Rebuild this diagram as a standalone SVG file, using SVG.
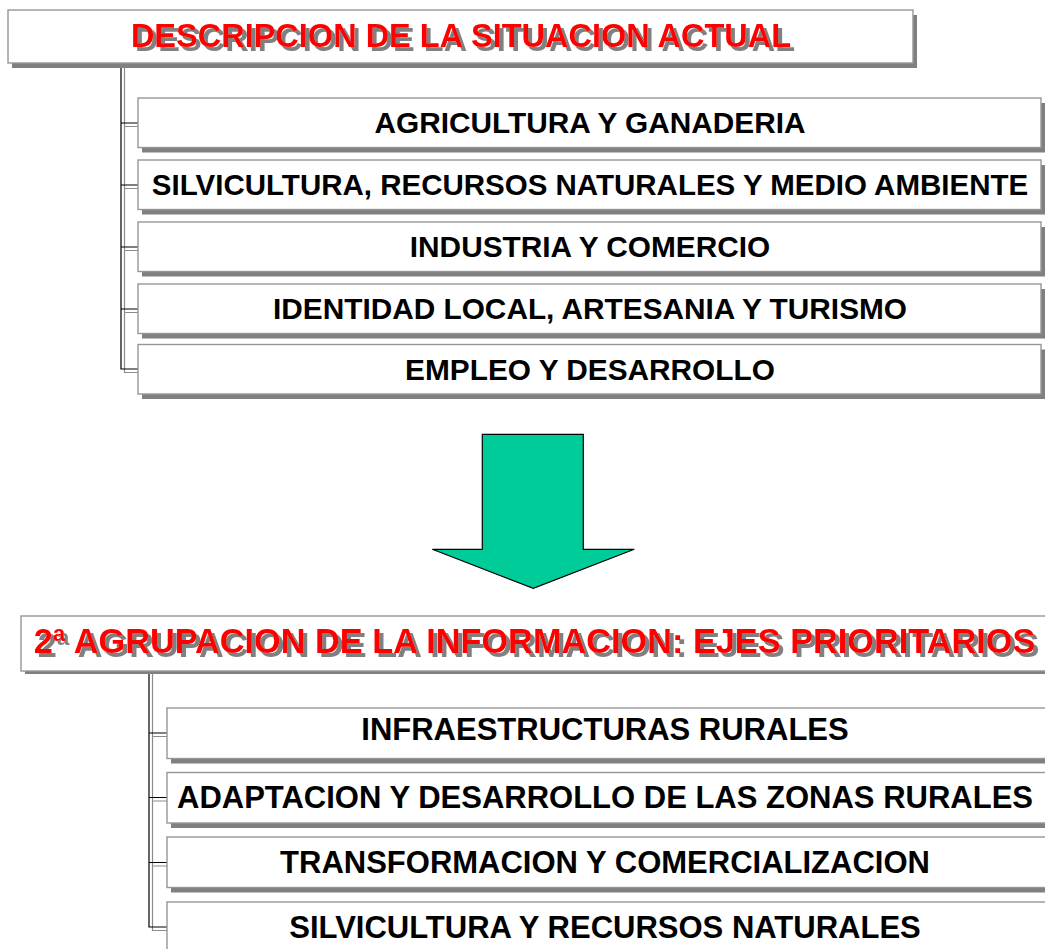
<svg xmlns="http://www.w3.org/2000/svg" width="1045" height="949" viewBox="0 0 1045 949">
<defs>
<filter id="tshadow" x="-5%" y="-20%" width="110%" height="160%">
  <feFlood flood-color="#808080" result="c"/>
  <feComposite in="c" in2="SourceAlpha" operator="in" result="s"/>
  <feOffset in="s" dx="3.5" dy="3.5" result="o"/>
  <feMerge><feMergeNode in="o"/><feMergeNode in="SourceGraphic"/></feMerge>
</filter>
</defs>
<style>
.box{fill:#ffffff;stroke:#969696;stroke-width:1.4}
.shadow{fill:#808080}
.title{font-family:"Liberation Sans",Arial,sans-serif;font-weight:bold;text-anchor:middle;fill:#ff0000;filter:url(#tshadow)}
.item{font-family:"Liberation Sans",Arial,sans-serif;font-weight:bold;fill:#000000;text-anchor:middle}
.cb{fill:none;stroke:#000000;stroke-width:1.2}
.cg{fill:none;stroke:#8c8c8c;stroke-width:1.2}
.arrow{fill:#00cc99;stroke:#000000;stroke-width:1.2}
</style>
<rect width="1045" height="949" fill="#ffffff"/>
<g id="connectors">
  <path class="cg" d="M124.5,66 V372.5 H138 M124.5,126.5 H138 M124.5,188.5 H138 M124.5,250.5 H138 M124.5,312.5 H138"/>
  <path class="cb" d="M121,65 V369 H138 M121,123 H138 M121,185 H138 M121,247 H138 M121,309 H138"/>
  <path class="cg" d="M152.5,674 V930.5 H167 M152.5,736.5 H167 M152.5,801 H167 M152.5,866 H167"/>
  <path class="cb" d="M149,673 V927 H167 M149,733 H167 M149,797.5 H167 M149,862.5 H167"/>
</g>
<g id="title1">
  <rect class="shadow" x="12" y="15" width="905" height="53"/>
  <rect class="box" x="8" y="10" width="905" height="53"/>
  <text class="title" x="461" y="46.5" font-size="32.5">DESCRIPCION DE LA SITUACION ACTUAL</text>
</g>
<g id="item1-1">
  <rect class="shadow" x="142" y="103" width="903" height="49.5"/>
  <rect class="box" x="138" y="98" width="903" height="49.5"/>
  <text class="item" x="590" y="133.3" font-size="29.8">AGRICULTURA Y GANADERIA</text>
</g>
<g id="item1-2">
  <rect class="shadow" x="142" y="165" width="903" height="49.5"/>
  <rect class="box" x="138" y="160" width="903" height="49.5"/>
  <text class="item" x="590" y="195.3" font-size="29.5">SILVICULTURA, RECURSOS NATURALES Y MEDIO AMBIENTE</text>
</g>
<g id="item1-3">
  <rect class="shadow" x="142" y="227" width="903" height="49.5"/>
  <rect class="box" x="138" y="222" width="903" height="49.5"/>
  <text class="item" x="590" y="257.3" font-size="29.8">INDUSTRIA Y COMERCIO</text>
</g>
<g id="item1-4">
  <rect class="shadow" x="142" y="289" width="903" height="49.5"/>
  <rect class="box" x="138" y="284" width="903" height="49.5"/>
  <text class="item" x="590" y="319.3" font-size="29.8">IDENTIDAD LOCAL, ARTESANIA Y TURISMO</text>
</g>
<g id="item1-5">
  <rect class="shadow" x="142" y="349.5" width="903" height="49.5"/>
  <rect class="box" x="138" y="344.5" width="903" height="49.5"/>
  <text class="item" x="590" y="379.5" font-size="29.8">EMPLEO Y DESARROLLO</text>
</g>
<g id="arrow">
  <path class="arrow" d="M482.3,434.3 H583.3 V549.3 H634.3 L533.3,588.3 L432.3,549.3 H482.3 Z"/>
</g>
<g id="title2">
  <rect class="shadow" x="25" y="621" width="1030" height="53"/>
  <rect class="box" x="21" y="616" width="1030" height="55"/>
  <text class="title" x="534.5" y="653" font-size="34.3">2ª AGRUPACION DE LA INFORMACION: EJES PRIORITARIOS</text>
</g>
<g id="item2-1">
  <rect class="shadow" x="171" y="713" width="880" height="50.5"/>
  <rect class="box" x="167" y="708" width="880" height="50.5"/>
  <text class="item" x="605" y="739.5" font-size="31">INFRAESTRUCTURAS RURALES</text>
</g>
<g id="item2-2">
  <rect class="shadow" x="171" y="777.5" width="880" height="50.5"/>
  <rect class="box" x="167" y="772.5" width="880" height="50.5"/>
  <text class="item" x="605" y="808" font-size="31">ADAPTACION Y DESARROLLO DE LAS ZONAS RURALES</text>
</g>
<g id="item2-3">
  <rect class="shadow" x="171" y="842" width="880" height="50.5"/>
  <rect class="box" x="167" y="837" width="880" height="50.5"/>
  <text class="item" x="605" y="873" font-size="31">TRANSFORMACION Y COMERCIALIZACION</text>
</g>
<g id="item2-4">
  <rect class="shadow" x="171" y="907" width="880" height="50.5"/>
  <rect class="box" x="167" y="902" width="880" height="50.5"/>
  <text class="item" x="605" y="937.5" font-size="31">SILVICULTURA Y RECURSOS NATURALES</text>
</g>
</svg>
